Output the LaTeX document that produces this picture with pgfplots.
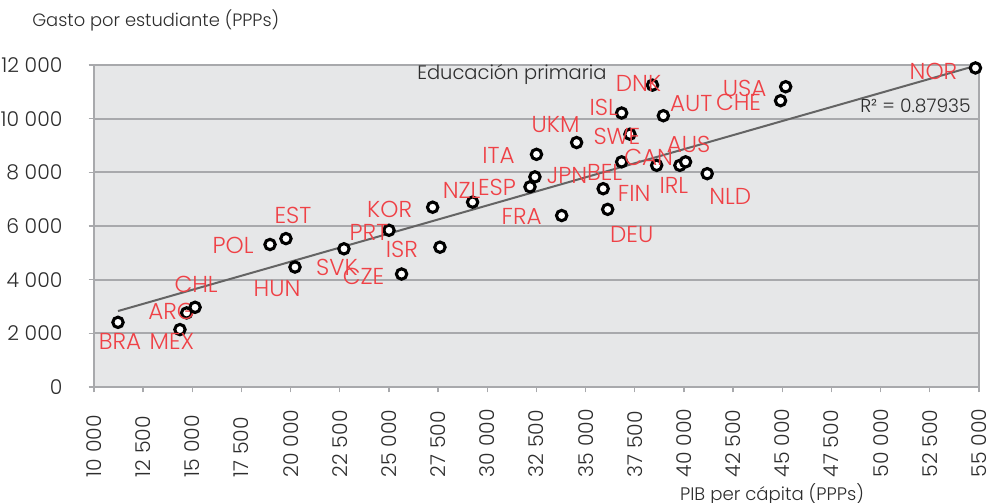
\documentclass[border=0pt]{standalone}
\usepackage{fontspec}
\setmainfont{Poppins}[UprightFont=* Light]
\usepackage{pgfplots}
\usepackage{pgfplotstable}
\pgfplotsset{compat=1.18}
\definecolor{labred}{RGB}{239,65,70}
\definecolor{plotbg}{RGB}{230,231,232}
\definecolor{gridgray}{RGB}{168,169,172}
\definecolor{txtgray}{RGB}{45,45,45}
\definecolor{trendgray}{RGB}{100,100,100}

% country, PIB per capita, gasto, label offset (px)
\pgfplotstableread{
name x y dx dy
BRA 11220 2410 2 -19
MEX 14370 2140 -8 -12
ARG 14710 2760 -15 2
CHL 15140 2970 1 23
POL 18950 5310 -37 -1
EST 19760 5530 7 23
HUN 20220 4470 -18 -21
SVK 22710 5150 -7 -19
PRT 25000 5840 -20 -2
CZE 25640 4210 -38 -2
KOR 27220 6700 -43 -2
ISR 27590 5210 -38 -2
NZL 29250 6890 -11 12
ESP 32170 7460 -33 -1
JPN 32420 7830 32 1
ITA 32500 8670 -38 -1
FRA 33780 6390 -40 -1
UKM 34540 9110 -21 18
FIN 35890 7390 31 -5
DEU 36120 6620 24 -25
BEL 36830 8390 -17 -11
ISL 36830 10210 -18 6
SWE 37250 9420 -13 -2
DNK 38400 11250 -14 2
CAN 38610 8260 -8 8
AUT 38950 10110 28 12
IRL 39790 8260 -6 -20
AUS 40080 8390 3 17
NLD 41180 7950 23 -23
CHE 44910 10670 -42 -2
USA 45170 11190 -41 -2
NOR 54820 11890 -42 -3
}\countries

\begin{document}
\begin{tikzpicture}
\path[use as bounding box] (-70.5pt,-87pt) rectangle (672pt,290.25pt);
\begin{axis}[
  at={(0,0)}, anchor=south west, scale only axis,
  width=663.75pt, height=241.5pt,
  xmin=10000, xmax=55000, ymin=0, ymax=12000,
  xtick distance=2500, ytick distance=2000,
  scaled ticks=false,
  axis background/.style={fill=plotbg},
  axis line style={gridgray, line width=2pt},
  ymajorgrids, grid style={gridgray, line width=1.5pt},
  tick style={gridgray, line width=1pt},
  tick align=outside, major tick length=4pt,
  xtick pos=lower, ytick pos=left,
  tick label style={font=\fontsize{15.3}{16}\selectfont, text=txtgray,
    /pgf/number format/1000 sep={\ }, /pgf/number format/assume math mode=true},
  yticklabel style={anchor=east, inner sep=0pt, xshift=-19.5pt},
  xticklabel style={yshift=-63.75pt, rotate=90, anchor=west, inner sep=0pt},
  clip=false,
]
\addplot[trendgray, line width=1.5pt] coordinates {(11220,2830) (54820,11970)};
\addplot[only marks, mark=*, mark size=3.9pt,
  mark options={fill=white, draw=black, line width=2.3pt},
  point meta=explicit symbolic,
  visualization depends on={\thisrow{dx} \as \ddx},
  visualization depends on={\thisrow{dy} \as \ddy},
  nodes near coords,
  nodes near coords align={center},
  every node near coord/.append style={font=\fontsize{17.3}{18}\selectfont, text=labred,
    inner sep=0pt, xshift={\ddx*0.75pt}, yshift={\ddy*0.75pt}},
] table[x=x, y=y, meta=name] {\countries};
\end{axis}
\node[anchor=west, inner sep=0pt, text=txtgray, font=\fontsize{13.4}{14}\selectfont] at (-46.5pt,275.25pt) {Gasto por estudiante (PPPs)};
\node[inner sep=0pt, text=txtgray, font=\fontsize{13.6}{14}\selectfont] at (508.5pt,-80.25pt) {PIB per cápita (PPPs)};
\node[anchor=west, inner sep=0pt, text=txtgray, font=\fontsize{14.6}{15}\selectfont] at (242.25pt,234.75pt) {Educación primaria};
\node[anchor=west, inner sep=0pt, text=txtgray, font=\fontsize{14}{14}\selectfont] at (574.5pt,210.75pt) {R² = 0.87935};
\end{tikzpicture}
\end{document}
